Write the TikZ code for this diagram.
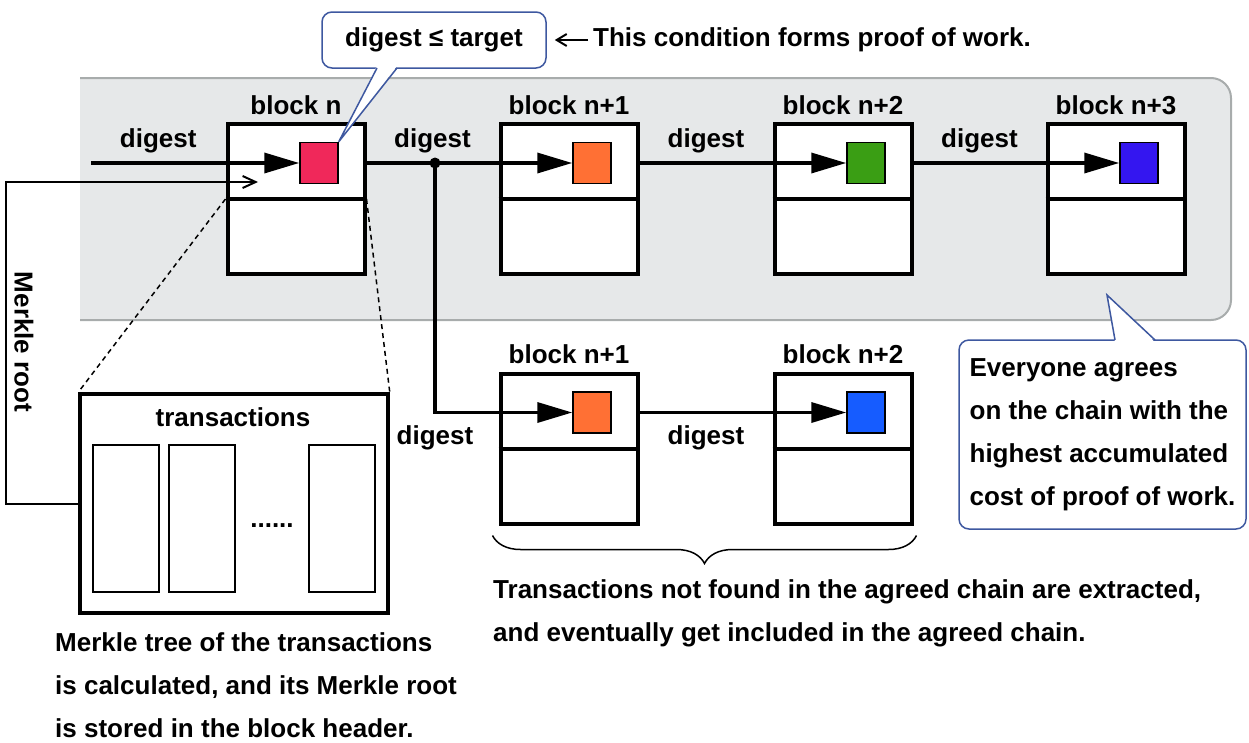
\documentclass[tikz,border=0pt]{standalone}
\usepackage{fontspec}
\setmainfont{Liberation Sans}
\usetikzlibrary{arrows.meta,positioning,calc,decorations.pathreplacing}

\definecolor{panelgray}{RGB}{230,232,233}
\definecolor{panelline}{RGB}{168,172,172}
\definecolor{callblue}{RGB}{62,88,160}
\definecolor{hashred}{RGB}{240,40,90}
\definecolor{hashorange}{RGB}{255,112,52}
\definecolor{hashgreen}{RGB}{58,158,20}
\definecolor{hashviolet}{RGB}{52,22,240}
\definecolor{hashblue}{RGB}{22,92,255}

\tikzset{
  txt/.style={font=\fontsize{26}{43}\selectfont\bfseries, inner sep=0pt},
  blk/.style={draw, line width=4pt, fill=white, minimum width=137pt, minimum height=150pt, inner sep=0pt},
  hsh/.style={draw, line width=1.5pt, minimum width=38pt, minimum height=41pt, inner sep=0pt},
  dig/.style={line width=3.5pt, -{Triangle[length=35pt,width=20pt]}},
  mrk/.style={line width=2pt, -{Straight Barb[length=13pt,width=12pt]}},
  txbox/.style={draw, line width=2pt, minimum width=66pt, minimum height=147pt},
  callbox/.style={draw=callblue, line width=1.5pt, fill=white, rounded corners=10pt},
  zoomline/.style={line width=1.5pt, dash pattern=on 5pt off 4pt},
}

\begin{document}
\begin{tikzpicture}[x=1pt,y=-1pt]
\useasboundingbox (0,0) rectangle (1249,742);

\filldraw[fill=panelgray, draw=panelline, line width=2pt, rounded corners=20pt]
  (80,78) -- (1231,78) -- (1231,320) -- (80,320);

\node[draw, line width=3.5pt, minimum width=308pt, minimum height=219pt] (tx) at (234,503.5) {};
\node[txt] (txlbl) at (233,417) {transactions};
\foreach \x/\n in {126/t1,201.5/t2,341.5/tn}
  \node[txbox] (\n) at (\x,518.5) {};
\node[txt, anchor=base] (dots) at (272,527) {......};

\node[blk] (b0) at (296,199) {};
\node[blk] (b1) at (569,199) {};
\node[blk] (b2) at (843,199) {};
\node[blk] (b3) at (1116,199) {};
\node[blk] (c1) at (569,448.5) {};
\node[blk] (c2) at (843,448.5) {};
\foreach \b in {b0,b1,b2,b3,c1,c2}
  \draw[line width=4pt] (\b.west) -- (\b.east);

\draw[zoomline] (b0.west) -- (tx.north west);
\draw[zoomline] (b0.east) -- (tx.north east);

\node[hsh, fill=hashred] (h0) at ($(b0)+(23,-36)$) {};
\node[hsh, fill=hashorange] (h1) at ($(b1)+(23,-36)$) {};
\node[hsh, fill=hashgreen] (h2) at ($(b2)+(23,-36)$) {};
\node[hsh, fill=hashviolet] (h3) at ($(b3)+(23,-36)$) {};
\node[hsh, fill=hashorange] (g1) at ($(c1)+(23,-36)$) {};
\node[hsh, fill=hashblue] (g2) at ($(c2)+(23,-36)$) {};

\node[txt, above=7pt of b0] {block n};
\node[txt, above=7pt of b1] {block n+1};
\node[txt, above=7pt of b2] {block n+2};
\node[txt, above=7pt of b3] {block n+3};
\node[txt, above=8pt of c1] {block n+1};
\node[txt, above=8pt of c2] {block n+2};

\coordinate (in) at (91,163);
\coordinate (fork) at (435,163);
\draw[dig] (in) -- (h0);
\draw[dig] (b0.east |- h0) -- (h1);
\draw[dig] (b1.east |- h1) -- (h2);
\draw[dig] (b2.east |- h2) -- (h3);
\draw[dig] (fork) |- (g1);
\draw[dig] (c1.east |- g1) -- (g2);
\fill (fork) circle (5.5pt);

\path (in) -- (b0.west |- in) node[txt, midway, above=10pt] {digest};
\path (b0.east |- h0) -- (b1.west |- h1) node[txt, midway, above=10pt] {digest};
\path (b1.east |- h1) -- (b2.west |- h2) node[txt, midway, above=10pt] {digest};
\path (b2.east |- h2) -- (b3.west |- h3) node[txt, midway, above=10pt] {digest};
\node[txt, below=13pt] at (fork |- g1) {digest};
\path (c1.east |- g1) -- (c2.west |- g2) node[txt, midway, below=13pt] {digest};

\coordinate (mtip) at (258,182);
\draw[mrk] (tx.west) -- ++(-72,0) |- (mtip);
\node[txt, rotate=-90] (mroot) at (24,342) {Merkle root};

\node[txt, callbox, minimum width=224pt, minimum height=56pt] (cond) at (434,40) {digest ≤ target};
\fill[white] (377,66) -- (h0.north east) -- (397,66) -- cycle;
\draw[callblue, line width=1.5pt] (377,68) -- (h0.north east) -- (397,68);
\node[txt, anchor=west] (pow) at (593,40) {This condition forms proof of work.};
\draw[line width=2pt, -{Straight Barb[length=10pt,width=12pt]}] ([xshift=-5pt]pow.west) -- ([xshift=8pt]cond.east);

\node[txt, callbox, align=left, minimum width=287pt, minimum height=189pt] (agree) at (1102.5,434.5)
  {Everyone agrees\\on the chain with the\\highest accumulated\\cost of proof of work.};
\coordinate (tip2) at (1107,295);
\fill[white] ($(agree.north)+(12.5,3)$) -- (tip2) -- ($(agree.north)+(52.5,3)$) -- cycle;
\draw[callblue, line width=1.5pt] ($(agree.north)+(12.5,0.75)$) -- (tip2) -- ($(agree.north)+(52.5,0.75)$);

\draw[line width=1.5pt, decorate, decoration={brace, mirror, amplitude=28pt}]
  ($(c1.south west)+(-6,10)$) -- ($(c2.south east)+(3,10)$);
\node[txt, anchor=north west, align=left] (extract) at (493,579)
  {Transactions not found in the agreed chain are extracted,\\and eventually get included in the agreed chain.};

\node[txt, anchor=north west, align=left] (mcap) at (55,632)
  {Merkle tree of the transactions\\is calculated, and its Merkle root\\is stored in the block header.};
\end{tikzpicture}
\end{document}
